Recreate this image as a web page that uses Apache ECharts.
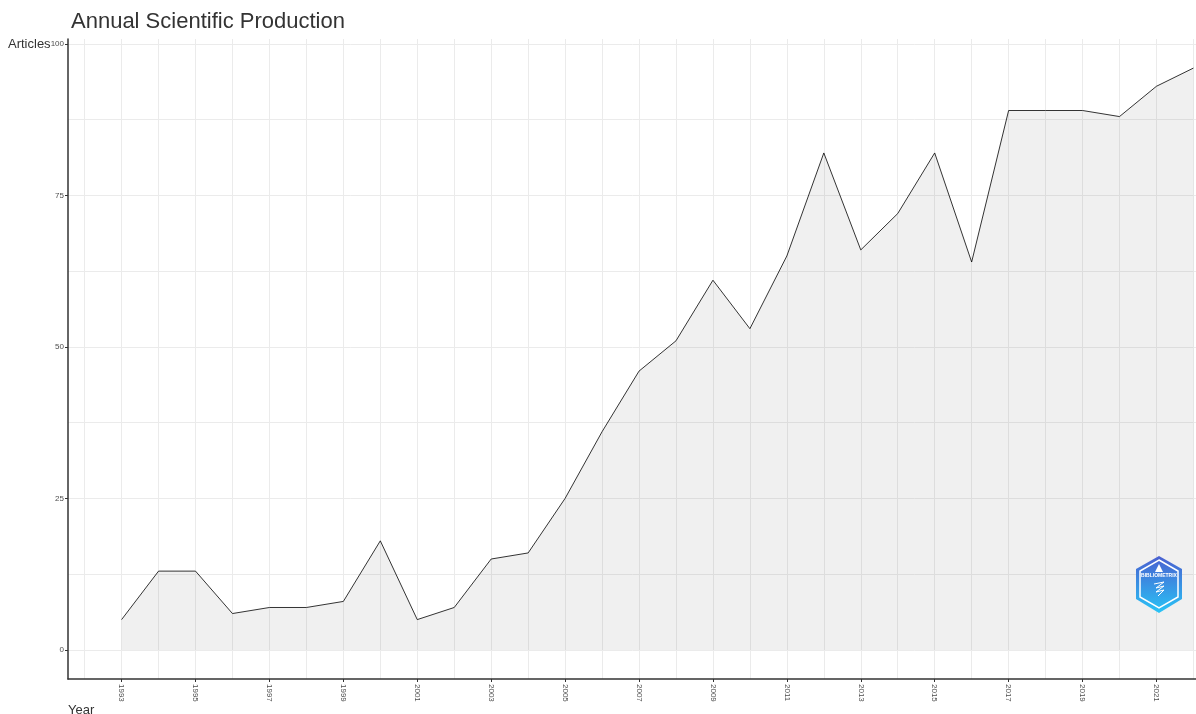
<!DOCTYPE html>
<html>
<head>
<meta charset="utf-8">
<script src="https://cdn.jsdelivr.net/npm/echarts@6/dist/echarts.min.js"></script>
<style>
  html, body { margin: 0; padding: 0; background: #fff; }
  #chart { width: 1196px; height: 714px; }
</style>
</head>
<body>
<div id="chart"></div>
<script>
// yearly counts
const years = [1993, 1994, 1995, 1996, 1997, 1998, 1999, 2000, 2001, 2002,
  2003, 2004, 2005, 2006, 2007, 2008, 2009, 2010, 2011, 2012,
  2013, 2014, 2015, 2016, 2017, 2018, 2019, 2020, 2021, 2022];
const articles = [5, 13, 13, 6, 7, 7, 8, 18, 5, 7,
  15, 16, 25, 36, 46, 51, 61, 53, 65, 82,
  66, 72, 82, 64, 89, 89, 89, 88, 93, 96];
const xLabelYears = [1993, 1995, 1997, 1999, 2001, 2003, 2005, 2007, 2009, 2011, 2013, 2015, 2017, 2019, 2021];
const xGridYears = [1992, 1993, 1994, 1995, 1996, 1997, 1998, 1999, 2000, 2001, 2002, 2003, 2004, 2005, 2006, 2007,
  2008, 2009, 2010, 2011, 2012, 2013, 2014, 2015, 2016, 2017, 2018, 2019, 2020, 2021, 2022, 2023];
const yLabels = [0, 25, 50, 75, 100];
const yGrid = [0, 12.5, 25, 37.5, 50, 62.5, 75, 87.5, 100];

const chart = echarts.init(document.getElementById("chart"));

const gridColor = "#ebebeb";
const font = "'Liberation Sans', Arial, sans-serif";

// bibliometrix logo (decoration)
const logoZ = 50;
const logo = [
  {
    type: "polygon",
    z: logoZ,
    shape: { points: [[23, 0], [46, 13], [46, 43], [23, 57], [0, 43], [0, 13]] },
    style: {
      fill: new echarts.graphic.LinearGradient(0, 0, 0, 1, [
        { offset: 0, color: "#4a5fd0" },
        { offset: 1, color: "#29c4f6" },
      ]),
    },
  },
  {
    type: "polygon",
    z: logoZ + 1,
    shape: { points: [[23, 4], [42, 15], [42, 41], [23, 52], [4, 41], [4, 15]] },
    style: { fill: "none", stroke: "#fff", lineWidth: 1.5 },
  },
  {
    type: "text",
    z: logoZ + 2,
    x: 23,
    y: 20,
    style: { text: "BIBLIOMETRIX", fill: "#fff", font: "bold 5px sans-serif", align: "center", verticalAlign: "middle" },
  },
  {
    type: "polygon",
    z: logoZ + 2,
    shape: { points: [[23, 8], [27, 16], [19, 16]] },
    style: { fill: "#fff" },
  },
  {
    type: "polyline",
    z: logoZ + 2,
    shape: { points: [[18, 28], [28, 26], [20, 32], [28, 30], [20, 36], [28, 34], [22, 40]] },
    style: { stroke: "#fff", lineWidth: 1, fill: "none" },
  },
];

chart.setOption({
  animation: false,
  title: {
    text: "Annual Scientific Production",
    left: 66,
    top: 6,
    textStyle: { fontFamily: font, fontSize: 22, fontWeight: "normal", color: "#333" },
  },
  grid: { left: 68, top: 39, width: 1179, height: 640, outerBoundsMode: "none", containLabel: false },
  xAxis: [
    {
      type: "value",
      min: 1991.55,
      max: 2023.45,
      axisLine: { show: true, onZero: false, lineStyle: { color: "#333", width: 1.5 } },
      axisTick: { show: true, length: 3, customValues: xLabelYears, lineStyle: { color: "#333" } },
      axisLabel: {
        customValues: xLabelYears,
        formatter: (v) => String(v),
        rotate: -90,
        margin: 5,
        fontFamily: font,
        fontSize: 8,
        color: "#4d4d4d",
      },
      splitLine: { show: false },
    },
    {
      type: "value",
      min: 1991.55,
      max: 2023.45,
      position: "bottom",
      axisLine: { show: false },
      axisTick: { show: false, customValues: xGridYears },
      axisLabel: { show: false, customValues: xGridYears },
      splitLine: { show: true, lineStyle: { color: gridColor, width: 1 } },
    },
  ],
  yAxis: [
    {
      type: "value",
      min: -4.8,
      max: 100.8,
      axisLine: { show: true, onZero: false, lineStyle: { color: "#333", width: 1.5 } },
      axisTick: { show: true, length: 3, customValues: yLabels, lineStyle: { color: "#333" } },
      axisLabel: { customValues: yLabels, margin: 4, fontFamily: font, fontSize: 8, color: "#4d4d4d" },
      splitLine: { show: false },
    },
    {
      type: "value",
      min: -4.8,
      max: 100.8,
      axisLine: { show: false },
      axisTick: { show: false, customValues: yGrid },
      axisLabel: { show: false, customValues: yGrid },
      splitLine: { show: true, lineStyle: { color: gridColor, width: 1 } },
    },
  ],
  series: [
    {
      type: "line",
      data: years.map((y, i) => [y, articles[i]]),
      xAxisIndex: 0,
      yAxisIndex: 0,
      symbol: "none",
      lineStyle: { color: "#000", width: 0.8 },
      areaStyle: { color: "rgba(0,0,0,0.06)", opacity: 1, origin: 0 },
      z: 3,
    },
  ],
  graphic: [
    {
      type: "text",
      left: 8,
      top: 38,
      style: { text: "Articles", fill: "#333", font: "13px 'Liberation Sans', Arial, sans-serif" },
    },
    {
      type: "text",
      left: 68,
      top: 704,
      style: { text: "Year", fill: "#333", font: "13px 'Liberation Sans', Arial, sans-serif" },
    },
    {
      type: "group",
      x: 1136,
      y: 556,
      z: logoZ,
      children: logo,
    },
  ],
});
</script>
</body>
</html>
